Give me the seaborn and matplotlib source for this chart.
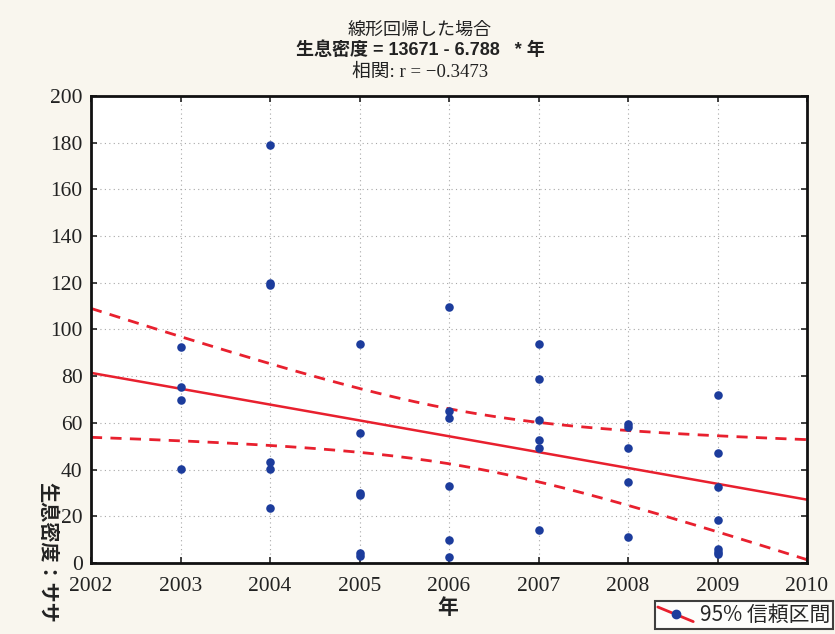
import numpy as np
import pandas as pd
import seaborn as sns
import matplotlib
matplotlib.use("Agg")
import matplotlib.pyplot as plt
from matplotlib.lines import Line2D
from matplotlib.legend_handler import HandlerBase

# Survey years and the observed density (one value per plot)
years = [2003] * 4 + [2004] * 6 + [2005] * 6 + [2006] * 6 + [2007] * 6 + [2008] * 5 + [2009] * 7
density = [
    92.5, 75.4, 69.8, 40.3,
    179.0, 120.0, 119.0, 43.3, 40.3, 23.6,
    93.8, 55.7, 30.0, 29.1, 4.3, 3.0,
    109.6, 65.1, 62.1, 33.0, 9.9, 2.6,
    93.8, 78.8, 61.2, 52.7, 49.3, 14.1,
    59.5, 58.2, 49.3, 34.7, 11.1,
    71.9, 47.1, 32.5, 18.4, 6.0, 4.7, 3.9,
]
intercept = 13671.0
slope = -6.788
corr_r = -0.3473
x_ticks = [2002, 2003, 2004, 2005, 2006, 2007, 2008, 2009, 2010]
y_ticks = [0, 20, 40, 60, 80, 100, 120, 140, 160, 180, 200]

df = pd.DataFrame({"年": years, "生息密度": density})

RED = "#e8202e"
BLUE = "#1c3c9c"
PAPER = "#f9f6ee"
INK = "#222222"

sns.set_theme(style="white")
plt.rcParams["font.family"] = ["Noto Sans CJK JP", "DejaVu Sans"]

fig = plt.figure(figsize=(8.35, 6.34), dpi=100, facecolor=PAPER)
ax = fig.add_axes([0.109, 0.112, 0.8575, 0.7366])
ax.set_facecolor("white")

# Fitted line and 95% confidence band of the mean
xs = np.linspace(2002, 2010, 200)
x = np.asarray(years, float)
y = np.asarray(density, float)
n = len(x)
fit = intercept + slope * xs
resid = y - (intercept + slope * x)
s = np.sqrt(np.sum(resid ** 2) / (n - 2))
sxx = np.sum((x - x.mean()) ** 2)
t_crit = 2.024
half = t_crit * s * np.sqrt(1.0 / n + (xs - x.mean()) ** 2 / sxx)

sns.lineplot(x=xs, y=fit, color=RED, lw=1.8, ax=ax)
sns.lineplot(x=xs, y=fit + half, color=RED, lw=2.0, ls=(0, (4, 3)), ax=ax)
sns.lineplot(x=xs, y=fit - half, color=RED, lw=2.0, ls=(0, (4, 3)), ax=ax)
sns.scatterplot(data=df, x="年", y="生息密度", color=BLUE, s=38, edgecolor=BLUE,
                linewidth=0, zorder=5, ax=ax)

ax.set_xlim(2002, 2010)
ax.set_ylim(0, 200)
ax.set_xticks(x_ticks)
ax.set_yticks(y_ticks)
ax.set_xticklabels([str(v) for v in x_ticks], family="Liberation Serif", fontsize=15.5)
ax.set_yticklabels([str(v) for v in y_ticks], family="Liberation Serif", fontsize=15.5)
ax.tick_params(direction="in", length=4, width=1.2, top=True, right=True,
               bottom=True, left=True, pad=6, colors=INK)
ax.tick_params(axis="x", pad=10)
ax.grid(True, color="#a8a8a8", ls=(0, (1, 3)), lw=0.8)
for sp in ax.spines.values():
    sp.set_color("#111111")
    sp.set_linewidth(2.0)
ax.set_xlabel("")
ax.set_ylabel("")

# Titles
fig.text(0.503, 0.953, "線形回帰した場合", ha="center", va="center", fontsize=13, color=INK)
fig.text(0.503, 0.921, "生息密度 = 13671 - 6.788   * 年", ha="center", va="center",
         fontsize=13, fontweight="bold", color=INK,
         family=["Liberation Sans", "Noto Sans CJK JP"])
fig.text(0.503, 0.886, f"相関: r = −{abs(corr_r):.4f}", ha="center", va="center",
         fontsize=13.5, color=INK, family=["Liberation Serif", "Noto Sans CJK JP"])

# Axis titles
fig.text(448 / 835, 1 - 607 / 634, "年", ha="center", va="center", fontsize=15,
         fontweight="bold", color=INK)
fig.text(48 / 835, 1 - 482 / 634, "生息密度：ササ", ha="center", va="top", rotation=-90,
         fontsize=14.5, fontweight="bold", color=INK)


class SlantHandler(HandlerBase):
    def create_artists(self, legend, orig_handle, xdescent, ydescent, width, height,
                       fontsize, trans):
        x0, y0 = -xdescent, -ydescent
        line = Line2D([x0, x0 + width], [y0 + height * 0.95, y0 - height * 0.05],
                      color=RED, lw=2)
        dot = Line2D([x0 + width * 0.5], [y0 + height * 0.45], marker="o", color=BLUE,
                     ms=6, ls="none")
        line.set_transform(trans)
        dot.set_transform(trans)
        return [line, dot]


handle = Line2D([], [], color=RED)
leg = fig.legend([handle], ["95% 信頼区間"], handler_map={Line2D: SlantHandler()},
                 loc="lower right", bbox_to_anchor=(833 / 835, 1 - 629 / 634),
                 fontsize=15, frameon=True, fancybox=False, borderpad=0.15,
                 handlelength=1.7, handletextpad=0.3, borderaxespad=0)
leg.get_frame().set_edgecolor("#111111")
leg.get_frame().set_linewidth(1.5)
leg.get_frame().set_facecolor("white")

fig.savefig("out.png", dpi=100, facecolor=PAPER)
